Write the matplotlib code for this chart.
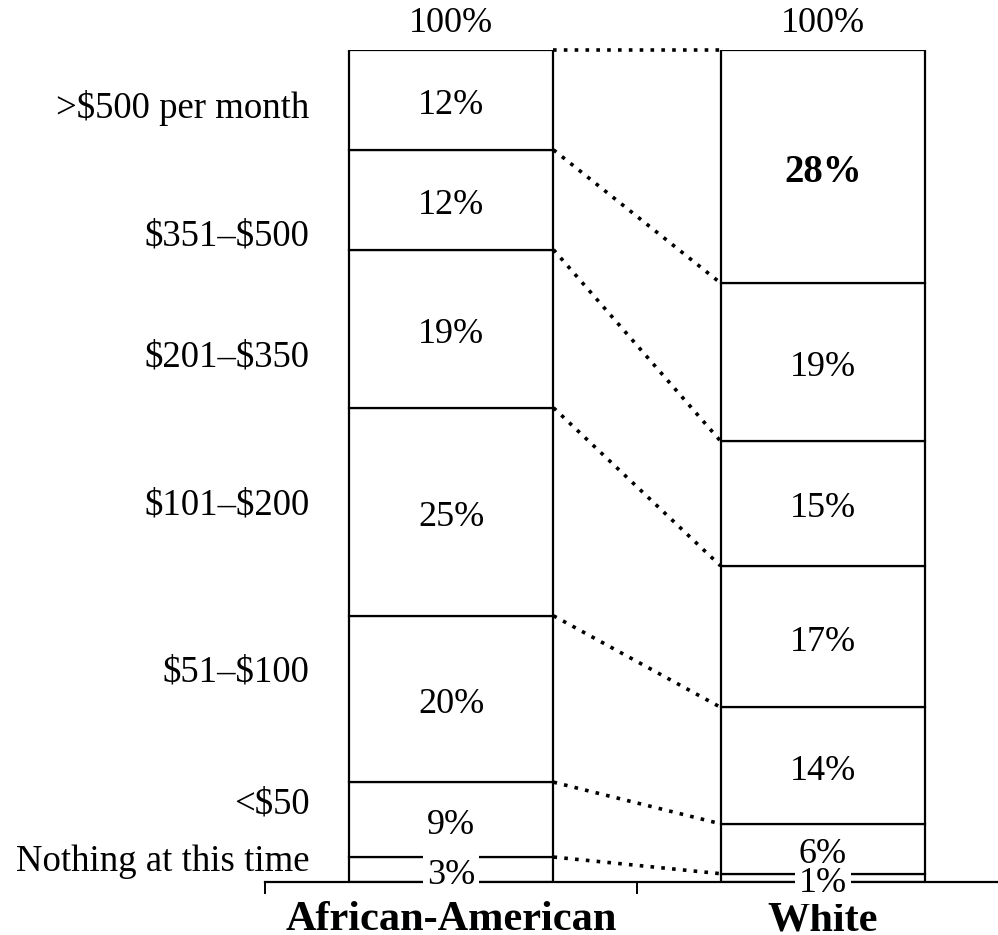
import matplotlib
matplotlib.use("Agg")
import matplotlib.pyplot as plt
import numpy as np

plt.rcParams['font.family'] = ['Liberation Serif', 'DejaVu Serif']
plt.rcParams['text.parse_math'] = False

groups = ['African-American', 'White']
levels = ['Nothing at this time', '<$50', '$51\u2013$100', '$101\u2013$200',
          '$201\u2013$350', '$351\u2013$500', '>$500 per month']
african_american = [3, 9, 20, 25, 19, 12, 12]
white = [1, 6, 14, 17, 15, 19, 28]
# where the level names sit on the left (in % of the bar)
level_label_y = [2.4, 9.3, 25.2, 45.3, 63.1, 77.6, 93.0]

fig = plt.figure(figsize=(9.98, 9.35), dpi=100)
ax = fig.add_axes([265 / 998, 53 / 935, 744 / 998, 832 / 935])

width = 0.551
series = [african_american, white]
tops = []
for i, vals in enumerate(series):
    bottoms = np.concatenate([[0], np.cumsum(vals)[:-1]])
    ax.bar(i, vals, width, bottom=bottoms, color='white', edgecolor='black',
           linewidth=1.6, zorder=2)
    tops.append(np.cumsum(vals))
    for v, b in zip(vals, bottoms):
        small = v < 5
        bold = (i == 1 and v == max(vals))
        ax.annotate('%d%%' % v, (i, b + v / 2), xytext=(0, -4),
                    textcoords='offset points', ha='center', va='center',
                    fontsize=28 if bold else 26,
                    fontweight='bold' if bold else 'normal', zorder=5,
                    bbox=dict(boxstyle='square,pad=0.12', fc='white', ec='none') if small else None)
    ax.annotate('100%', (i, 100), xytext=(0, 19), textcoords='offset points',
                ha='center', va='center', fontsize=26, annotation_clip=False)

# dotted connectors between matching boundaries
dots = (0, (1, 2))
for a, w in zip(tops[0], tops[1]):
    ax.plot([width / 2, 1 - width / 2], [a, w], color='black', lw=2.6,
            linestyle=dots, zorder=3, clip_on=False)

for name, y in zip(levels, level_label_y):
    ax.annotate(name, (-width / 2, y), xytext=(-28, 0), textcoords='offset points',
                ha='right', va='center', fontsize=26.5, annotation_clip=False)

ax.set_xlim(-0.5, 1.5)
ax.set_ylim(0, 100)
for s in ['top', 'right', 'left']:
    ax.spines[s].set_visible(False)
ax.spines['bottom'].set_linewidth(1.6)
ax.spines['bottom'].set_zorder(2.5)
ax.set_yticks([])
ax.set_xticks([-0.5, 0.5, 1.5])
ax.set_xticklabels([])
ax.tick_params(axis='x', which='major', length=8.5, width=1.4, direction='out')
ax.set_xticks([0, 1], minor=True)
ax.set_xticklabels(groups, minor=True, fontsize=30.5, fontweight='bold')
ax.tick_params(axis='x', which='minor', length=0, pad=14)

fig.savefig('out.png', dpi=100)
